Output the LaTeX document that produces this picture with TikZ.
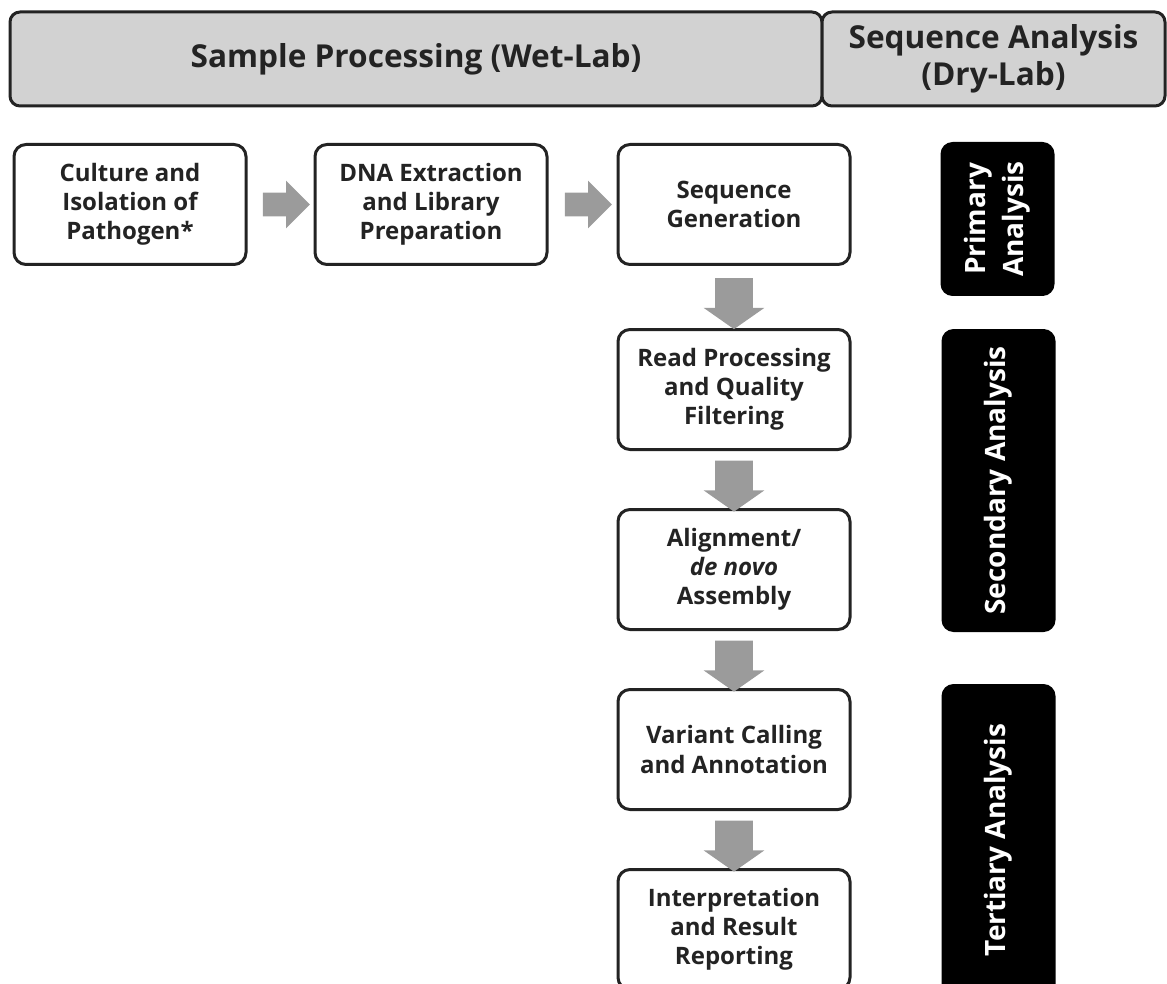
\documentclass[tikz,border=0pt]{standalone}
\usepackage{fontspec}
\setmainfont{Open Sans}
\usepackage{xcolor}
\usepackage{tikz}
\usetikzlibrary{shapes.arrows, positioning, calc}
\definecolor{hdrgray}{RGB}{210,210,210}
\definecolor{arrgray}{RGB}{155,155,155}
\definecolor{linegray}{RGB}{35,35,35}

\begin{document}
\begin{tikzpicture}[x=0.5pt,y=-0.5pt,%
header/.style={draw=linegray,fill=hdrgray,rectangle,rounded corners=5pt,line width=1.5pt,minimum height=47pt,align=center,text=linegray,font=\fontsize{15.8}{18.5}\selectfont\bfseries},%
stepbox/.style={draw=linegray,fill=white,rectangle,rounded corners=6pt,line width=1.5pt,minimum width=116pt,minimum height=60pt,align=center,text=linegray,font=\fontsize{12}{14.6}\selectfont\bfseries},%
phase/.style={fill=black,rectangle,rounded corners=6pt,rotate=90,minimum height=57pt,align=center,text=white,font=\fontsize{14}{19}\selectfont\bfseries},%
harrow/.style={single arrow,fill=arrgray,inner sep=5.75pt,single arrow head extend=6pt,minimum height=23.5pt,minimum width=0pt},%
varrow/.style={single arrow,fill=arrgray,inner sep=9.25pt,single arrow head extend=5.75pt,single arrow tip angle=110,minimum height=24pt,minimum width=0pt,rotate=-90}]%
\useasboundingbox (0,0) rectangle (1167,984);%
% headers
\node[header,minimum width=406pt] (wet) at (416,59) {Sample Processing (Wet-Lab)};%
\node[header,minimum width=171.5pt] (dry) at (993.5,59) {Sequence Analysis\\(Dry-Lab)};%
% wet-lab steps
\node[stepbox] (cult) at (130,204.5) {Culture and\\Isolation of\\Pathogen*};%
\node[stepbox,right=33pt of cult] (dna) {DNA Extraction\\and Library\\Preparation};%
\node[stepbox,right=34pt of dna] (seq) {Sequence\\Generation};%
% dry-lab steps
\node[stepbox,below=31pt of seq] (read) {Read Processing\\and Quality\\Filtering};%
\node[stepbox,below=28.5pt of read] (align) {Alignment/\\\textit{de novo}\\Assembly};%
\node[stepbox,below=28.5pt of align] (var) {Variant Calling\\and Annotation};%
\node[stepbox,below=28.5pt of var] (rep) {Interpretation\\and Result\\Reporting};%
% block arrows
\node[harrow] (a1) at ($(cult.east)!0.5!(dna.west)$) {};%
\node[harrow] (a2) at ($(dna.east)!0.5!(seq.west)$) {};%
\node[varrow] (a3) at ($(seq.south)!0.5!(read.north)$) {};%
\node[varrow] (a4) at ($(read.south)!0.5!(align.north)$) {};%
\node[varrow] (a5) at ($(align.south)!0.5!(var.north)$) {};%
\node[varrow] (a6) at ($(var.south)!0.5!(rep.north)$) {};%
% analysis phases
\node[phase,minimum width=77pt] (prim) at (997.5,219) {Primary\\Analysis};%
\node[phase,minimum width=151.5pt] (sec) at (998.5,480.5) {Secondary Analysis};%
\node[phase,minimum width=156pt] (ter) at (998.5,840) {Tertiary Analysis};%
\end{tikzpicture}
\end{document}
